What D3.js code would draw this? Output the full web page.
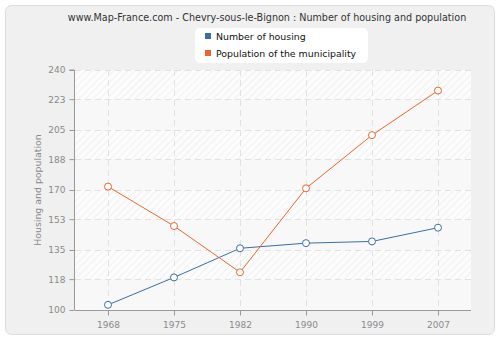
<!DOCTYPE html>
<html>
<head>
<meta charset="utf-8">
<script src="https://cdn.jsdelivr.net/npm/d3@7"></script>
<style>
html,body{margin:0;padding:0;background:#fff;}
svg{display:block;font-family:"DejaVu Sans",Verdana,sans-serif;}
</style>
</head>
<body>
<svg id="chart" width="500" height="340"></svg>
<script>
const years = ["1968","1975","1982","1990","1999","2007"];
const housing = [103,119,136,139,140,148];
const population = [172,149,122,171,202,228];
const yTicks = [100,118,135,153,170,188,205,223,240];
const seriesNames = ["Number of housing","Population of the municipality"];
const seriesColors = ["#3b6ea6","#e8672f"];
const chartTitle = "www.Map-France.com - Chevry-sous-le-Bignon : Number of housing and population";
const yTitle = "Housing and population";

const svg = d3.select("#chart");
const W = 500, H = 340;
const m = {left:75, right:29, top:70, bottom:30};
const x = d3.scalePoint().domain(years).range([m.left, W - m.right]).padding(0.5);
const y = d3.scaleLinear().domain([100,240]).range([H - m.bottom, m.top]);

// frame
svg.append("rect").attr("x",5.5).attr("y",5.5).attr("width",489).attr("height",329)
  .attr("rx",6).attr("fill","#f0f0f0").attr("stroke","#dcdcdc");

// hatch pattern
const defs = svg.append("defs");
const pat = defs.append("pattern").attr("id","hatch").attr("patternUnits","userSpaceOnUse")
  .attr("width",5).attr("height",5).attr("patternTransform","rotate(45)");
pat.append("rect").attr("width",5).attr("height",5).attr("fill","#fcfcfc");
pat.append("line").attr("x1",0).attr("y1",0).attr("x2",0).attr("y2",5)
  .attr("stroke","#e6e6e6").attr("stroke-width",1);

const plotL = m.left, plotR = W - m.right;
svg.append("rect").attr("x",plotL).attr("y",m.top).attr("width",plotR-plotL)
  .attr("height",H-m.bottom-m.top).attr("fill","url(#hatch)");
// alternate plain bands
for (let i = 0; i < yTicks.length - 1; i++) {
  if (i % 2 === 0) {
    svg.append("rect").attr("x",plotL).attr("width",plotR-plotL)
      .attr("y",y(yTicks[i+1])).attr("height",y(yTicks[i]) - y(yTicks[i+1]))
      .attr("fill","#f8f8f8");
  }
}

// grid
const grid = svg.append("g").attr("stroke","#e2e2e2").attr("stroke-dasharray","6,4").attr("stroke-width",1);
yTicks.slice(1).forEach(t => {
  grid.append("line").attr("x1",plotL).attr("x2",plotR)
    .attr("y1",Math.round(y(t))+0.5).attr("y2",Math.round(y(t))+0.5);
});
years.forEach(yr => {
  grid.append("line").attr("x1",Math.round(x(yr))+0.5).attr("x2",Math.round(x(yr))+0.5)
    .attr("y1",m.top).attr("y2",H-m.bottom);
});

// axes
const yAxis = d3.axisLeft(y).tickValues(yTicks).tickSize(5).tickPadding(4).tickFormat(d3.format("d"));
const gy = svg.append("g").attr("transform",`translate(${plotL-0.5},0)`).call(yAxis);
gy.select(".domain").attr("stroke","#999").attr("d",`M-5,${y(240)}H0V${y(100)}`);
const xAxis = d3.axisBottom(x).tickSize(5).tickPadding(6);
const gx = svg.append("g").attr("transform",`translate(0,${H-m.bottom+0.5})`).call(xAxis);
gx.select(".domain").attr("stroke","#999").attr("d",`M${plotL},0H${plotR}`);
[gx,gy].forEach(g => {
  g.selectAll(".tick line").attr("stroke","#999");
  g.selectAll(".tick text").attr("fill","#8a8a8a").attr("font-size","9px")
   .attr("font-family","DejaVu Sans, Verdana, sans-serif");
});

// y title
svg.append("text").attr("transform",`translate(41,${(m.top + H - m.bottom)/2}) rotate(-90)`)
  .attr("text-anchor","middle").attr("fill","#8a8a8a").attr("font-size","9.4px").text(yTitle);

// title
svg.append("text").attr("x",267).attr("y",21).attr("text-anchor","middle")
  .attr("fill","#333").attr("font-size","9.6px").text(chartTitle);

// series
const line = d3.line().x((d,i)=>x(years[i])).y(d=>y(d));
[housing, population].forEach((vals, si) => {
  const g = svg.append("g");
  g.append("path").datum(vals).attr("d",line).attr("fill","none")
    .attr("stroke",seriesColors[si]).attr("stroke-width",1);
  g.selectAll("circle").data(vals).enter().append("circle")
    .attr("cx",(d,i)=>x(years[i])).attr("cy",d=>y(d)).attr("r",3.5)
    .attr("fill","#fff").attr("stroke",seriesColors[si]).attr("stroke-width",1);
});

// legend
const lg = svg.append("g");
lg.append("rect").attr("x",195).attr("y",28).attr("width",173).attr("height",35).attr("rx",5)
  .attr("fill","#fff");
seriesNames.forEach((n,i) => {
  lg.append("rect").attr("x",205).attr("y",33+i*17).attr("width",6).attr("height",6)
    .attr("fill",seriesColors[i]);
  lg.append("text").attr("x",216).attr("y",39.5+i*17).attr("font-size","9.4px").attr("fill","#111").text(n);
});
</script>
</body>
</html>
